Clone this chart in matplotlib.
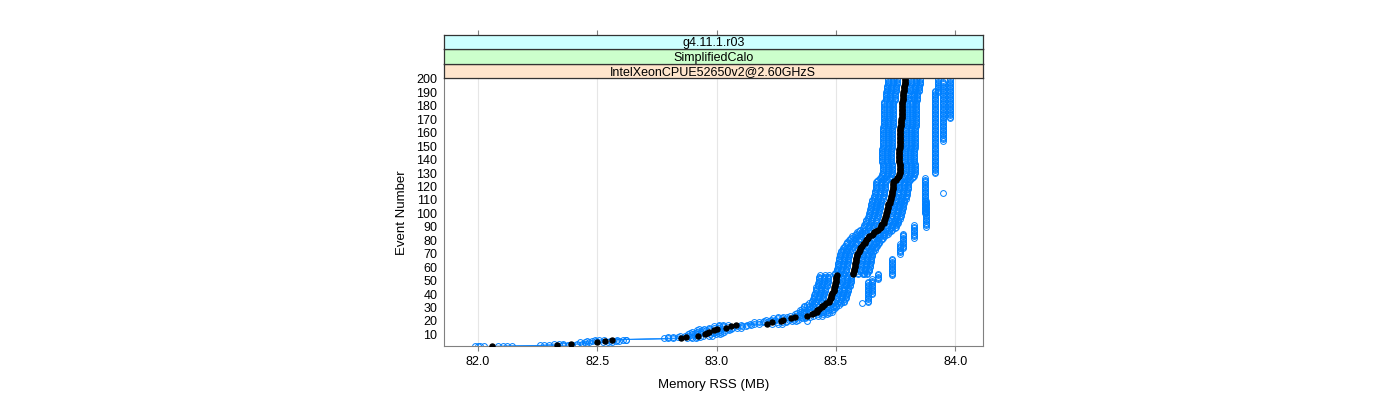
import numpy as np
import matplotlib
matplotlib.use("Agg")
import matplotlib.pyplot as plt

plt.rcParams["font.family"] = ["Liberation Sans", "DejaVu Sans"]

# ── Data ──────────────────────────────────────────────────────────────────────

EVENTS = np.arange(1, 201)

# median memory RSS (MB) per event
MEDIAN_MB = [
    82.06, 82.33, 82.39, 82.50, 82.53, 82.56, 82.85, 82.87, 82.92, 82.95,
    82.96, 82.97, 82.99, 83.00, 83.04, 83.06, 83.08, 83.21, 83.23, 83.27,
    83.28, 83.31, 83.33, 83.38, 83.40, 83.41, 83.42, 83.42, 83.43, 83.44,
    83.44, 83.45, 83.46, 83.47, 83.47, 83.475, 83.48, 83.48, 83.48, 83.485,
    83.485, 83.49, 83.49, 83.49, 83.49, 83.495, 83.495, 83.495, 83.50, 83.50,
    83.50, 83.50, 83.50, 83.505, 83.57, 83.57, 83.575, 83.575, 83.575, 83.58,
    83.58, 83.58, 83.58, 83.585, 83.585, 83.585, 83.585, 83.59, 83.59, 83.59,
    83.595, 83.595, 83.60, 83.60, 83.605, 83.61, 83.615, 83.62, 83.62, 83.625,
    83.63, 83.635, 83.64, 83.65, 83.655, 83.66, 83.67, 83.675, 83.685, 83.69,
    83.69, 83.695, 83.70, 83.70, 83.70, 83.705, 83.705, 83.71, 83.71, 83.71,
    83.715, 83.715, 83.715, 83.72, 83.72, 83.72, 83.72, 83.725, 83.725, 83.725,
    83.73, 83.73, 83.73, 83.735, 83.735, 83.735, 83.735, 83.74, 83.74, 83.74,
    83.74, 83.74, 83.74, 83.745, 83.75, 83.755, 83.76, 83.765, 83.765, 83.77,
    83.77, 83.77, 83.77, 83.77, 83.77, 83.77, 83.77, 83.765, 83.765, 83.765,
    83.765, 83.765, 83.765, 83.765, 83.765, 83.765, 83.765, 83.765, 83.77, 83.77,
    83.77, 83.77, 83.77, 83.77, 83.77, 83.77, 83.77, 83.77, 83.77, 83.77,
    83.77, 83.77, 83.77, 83.77, 83.772, 83.772, 83.772, 83.772, 83.772, 83.772,
    83.775, 83.775, 83.775, 83.775, 83.775, 83.775, 83.775, 83.775, 83.775, 83.775,
    83.775, 83.775, 83.775, 83.78, 83.78, 83.78, 83.78, 83.78, 83.78, 83.78,
    83.785, 83.785, 83.785, 83.785, 83.785, 83.79, 83.79, 83.79, 83.79, 83.79,
]

# individual runs sit close to the median: their offsets (MB)
RUN_OFFSETS = [-0.072, -0.052, -0.034, 0.024, 0.046, 0.062]

# slower runs (right-hand staircase): event start, event end, memory (MB)
FAR_START = [34, 40, 51, 54, 70, 74, 82, 90, 100, 130, 154, 171, 190]
FAR_END   = [49, 51, 55, 66, 77, 85, 91, 109, 126, 191, 198, 200, 200]
FAR_MB    = [83.635, 83.651, 83.677, 83.736, 83.769, 83.780, 83.828,
             83.878, 83.872, 83.914, 83.948, 83.979, 83.927]

# stray single readings
STRAY_EV = [33, 55, 115, 1, 1, 6, 20, 116]
STRAY_MB = [83.61, 83.614, 83.95, 82.00, 82.14, 82.62, 83.38, 83.74]

STRIPS = ["g4.11.1.r03", "SimplifiedCalo", "IntelXeonCPUE52650v2@2.60GHzS"]
STRIP_COLORS = ["#ccffff", "#ccffcc", "#ffe5cc"]

X_TICKS = [82.0, 82.5, 83.0, 83.5, 84.0]
Y_TICKS = list(range(10, 201, 10))

# ── Figure ────────────────────────────────────────────────────────────────────

BLUE  = "#0080ff"
FRAME = "#808080"

fig = plt.figure(figsize=(14, 4), dpi=100)
ax = fig.add_axes([0.3168, 0.1338, 0.3854, 0.6705])

median = np.array(MEDIAN_MB)
for off in RUN_OFFSETS:
    ax.plot(median + off, EVENTS, color=BLUE, lw=0.35, alpha=0.8, zorder=1)
    ax.plot(median + off, EVENTS, ls="none", marker="o", ms=4.2,
            mfc="none", mec=BLUE, mew=0.7, zorder=2)

for s, e, m in zip(FAR_START, FAR_END, FAR_MB):
    ev = np.arange(s, e + 1)
    ax.plot(np.full(len(ev), m), ev, ls="none", marker="o", ms=4.2,
            mfc="none", mec=BLUE, mew=0.7, zorder=2)

ax.plot(STRAY_MB, STRAY_EV, ls="none", marker="o", ms=4.2,
        mfc="none", mec=BLUE, mew=0.7, zorder=2)

ax.plot(median, EVENTS, ls="none", marker="o", ms=3.6,
        color="black", zorder=4)

ax.set_xlim(81.855, 84.117)
ax.set_ylim(1.0, 200.5)
ax.set_xticks(X_TICKS)
ax.set_xticklabels([f"{v:.1f}" for v in X_TICKS])
ax.set_yticks(Y_TICKS)
ax.grid(axis="x", color="#e6e6e6", lw=0.8, zorder=0)
ax.set_axisbelow(True)

for spine in ax.spines.values():
    spine.set_color(FRAME)
ax.tick_params(axis="x", length=3.6, width=0.8, color=FRAME,
               labelsize=9, pad=3)
ax.tick_params(axis="y", length=0, labelsize=9, pad=4.5)

ax.set_xlabel("Memory RSS (MB)", fontsize=9.5, labelpad=8)
ax.set_ylabel("Event Number", fontsize=9.5, labelpad=6)

# strips above the panel (bottom strip first)
strip_h = 14.5 / 400
y0 = 0.8043
for i, (label, col) in enumerate(zip(reversed(STRIPS), reversed(STRIP_COLORS))):
    sax = fig.add_axes([0.3168, y0 + i * strip_h, 0.3854, strip_h])
    sax.set_facecolor(col)
    sax.set_xlim(ax.get_xlim())
    sax.set_yticks([])
    sax.set_xticks([])
    for spine in sax.spines.values():
        spine.set_color("#333333")
        spine.set_linewidth(0.9)
    sax.text(0.5, 0.42, label, transform=sax.transAxes, ha="center",
             va="center", fontsize=9)
    if i == len(STRIPS) - 1:
        sax.set_xticks(X_TICKS)
        sax.xaxis.tick_top()
        sax.tick_params(axis="x", length=3.6, width=0.8, color=FRAME,
                        labeltop=False)

fig.savefig("out.png", dpi=100)
